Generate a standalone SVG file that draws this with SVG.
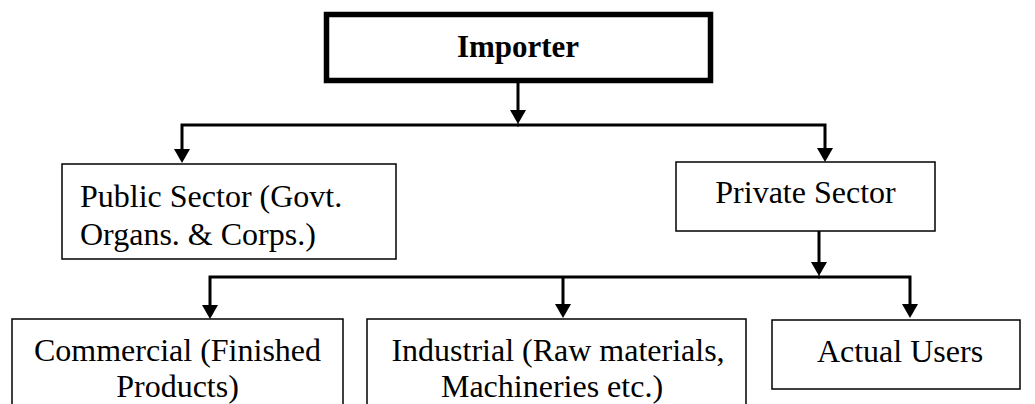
<svg xmlns="http://www.w3.org/2000/svg" width="1035" height="404" viewBox="0 0 1035 404">
<style>
.box{fill:#fff;stroke:#000;stroke-width:1.5}
.main{fill:#fff;stroke:#000;stroke-width:5.5}
.t{font-family:"Liberation Serif","Times New Roman",serif;font-size:32px;fill:#000}
.b{font-weight:bold;font-size:31px}
.c{fill:none;stroke:#000;stroke-width:3}
</style>
<defs>
<marker id="arr" markerUnits="userSpaceOnUse" markerWidth="16" markerHeight="17" refX="6" refY="8" orient="auto" viewBox="0 0 16 16">
<path d="M0,0 L14,8 L0,16 z" fill="#000"/>
</marker>
</defs>
<rect width="1035" height="404" fill="#fff"/>
<g id="connectors">
<path class="c" d="M518,83 V116" marker-end="url(#arr)"/>
<path class="c" d="M519,125 H182 V155" marker-end="url(#arr)"/>
<path class="c" d="M517,125 H825 V154" marker-end="url(#arr)"/>
<path class="c" d="M819,231 V268" marker-end="url(#arr)"/>
<path class="c" d="M820,277 H210 V311" marker-end="url(#arr)"/>
<path class="c" d="M818,277 H910 V310" marker-end="url(#arr)"/>
<path class="c" d="M563,277 V310" marker-end="url(#arr)"/>
</g>
<g id="importer">
<rect class="main" x="326.5" y="14.5" width="384" height="66"/>
<text class="t b" x="518" y="57" text-anchor="middle">Importer</text>
</g>
<g id="public">
<rect class="box" x="62" y="164" width="334" height="95"/>
<text class="t"><tspan x="80" y="207">Public Sector (Govt.</tspan><tspan x="80" y="245">Organs. &amp; Corps.)</tspan></text>
</g>
<g id="private">
<rect class="box" x="676" y="162" width="259" height="69"/>
<text class="t" x="805.5" y="203" text-anchor="middle">Private Sector</text>
</g>
<g id="commercial">
<rect class="box" x="12" y="319" width="331" height="100"/>
<text class="t" text-anchor="middle"><tspan x="177.5" y="361">Commercial (Finished</tspan><tspan x="177.5" y="397">Products)</tspan></text>
</g>
<g id="industrial">
<rect class="box" x="367" y="319" width="379" height="100"/>
<text class="t" text-anchor="middle"><tspan x="558" y="361">Industrial (Raw materials,</tspan><tspan x="552" y="397">Machineries etc.)</tspan></text>
</g>
<g id="users">
<rect class="box" x="772" y="320" width="248" height="69"/>
<text class="t" x="900" y="362" text-anchor="middle">Actual Users</text>
</g>
</svg>
